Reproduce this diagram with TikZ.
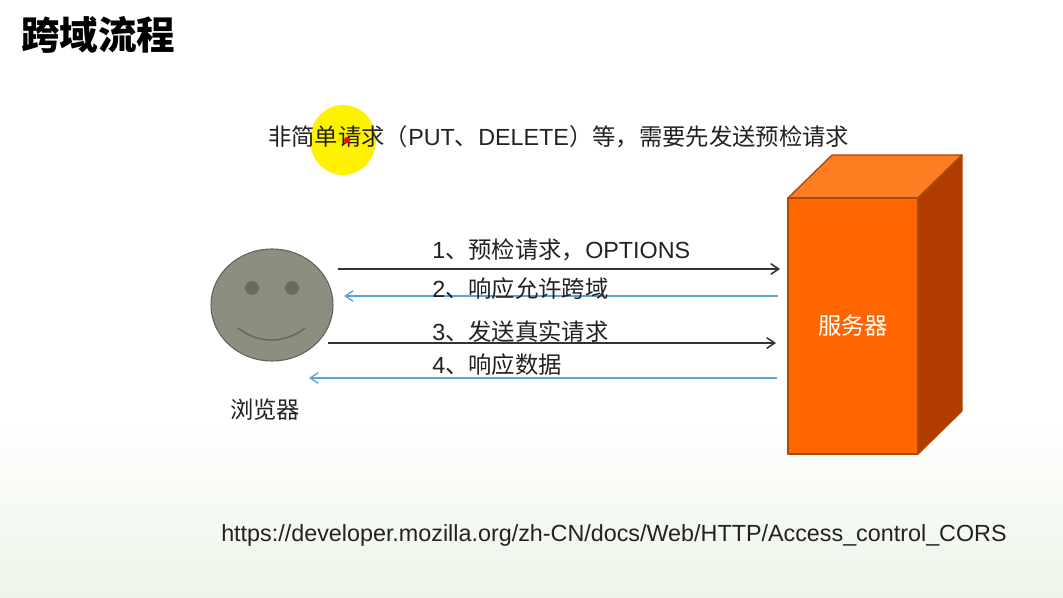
\documentclass[tikz,border=0pt]{standalone}
\usepackage{fontspec}
\setmainfont{Liberation Sans}
\newfontfamily\cjk{Noto Sans CJK SC}
\usepackage{tikz}
\usetikzlibrary {
  positioning,
  arrows.meta,
  shapes.geometric,
}
\definecolor{facegray}{HTML}{8C8E80}
\definecolor{faceedge}{HTML}{62645A}
\definecolor{eyegray}{HTML}{696B60}
\definecolor{replyblue}{HTML}{5BA3D9}
\definecolor{servfront}{HTML}{FF6600}
\definecolor{servtop}{HTML}{FF7D21}
\definecolor{servside}{HTML}{B23C00}
\definecolor{servedge}{HTML}{A84A0C}
\definecolor{inkgray}{HTML}{222222}
\definecolor{paperlow}{HTML}{EDF4E8}
\tikzset{
  txt/.style = {
    font = \fontsize{17.5pt}{20pt}\selectfont,
    text = inkgray,
    inner sep = 0pt
  },
  request/.style = {
    -{Straight Barb[length = 6pt, width = 8pt]},
    line width = 1.1pt,
    color = black!80
  },
  reply/.style = {
    -{Straight Barb[length = 6pt, width = 8pt]},
    line width = 1pt,
    color = replyblue
  },
  face/.style = {
    ellipse,
    draw = faceedge,
    fill = facegray,
    line width = .8pt,
    inner sep = 0pt
  },
  eye/.style = {
    circle,
    fill = eyegray,
    minimum size = 10.5pt,
    inner sep = 0pt
  },
  facet/.style = {
    draw = servedge,
    line width = 1pt,
    line join = round,
    fill = #1
  },
}
\newcommand{\zh}[1]{{\cjk #1}}
\begin{document}
\begin{tikzpicture}[x = .75pt, y = -.75pt]
  \useasboundingbox (0, 0) rectangle (1063, 598);
  % background
  \fill[white] (0, 0) rectangle (1063, 598);
  \fill[top color = white, bottom color = paperlow] (0, 420) rectangle (1063, 598);

  \node[font = \fontsize{28.9pt}{32pt}\selectfont\cjk\bfseries, text = black, inner sep = 0pt, anchor = west] (title) at (21, 35) {跨域流程};

  \fill[yellow] (343, 140) ellipse (33 and 35);
  \node[txt, anchor = west] (note) at (268, 137) {\zh{非简单请求（}PUT\zh{、}DELETE\zh{）等，需要先发送预检请求}};
  \fill[red] (347, 140) circle (3);

  % browser
  \node[face, minimum width = 91.5pt, minimum height = 84pt] (browser) at (272, 305) {};
  \node[eye] (lefteye) at (252, 288) {};
  \node[eye] (righteye) at (292, 288) {};
  \coordinate (smileleft) at (238, 328);
  \coordinate (smileright) at (305, 328);
  \draw[faceedge, line width = 1pt] (smileleft) .. controls (258, 344) and (285, 344) .. (smileright);
  \node[txt, anchor = center] (browsername) at (265, 410) {\zh{浏览器}};

  % server
  \coordinate (ftl) at (788, 198);
  \coordinate (ftr) at (918, 198);
  \coordinate (fbr) at (918, 454);
  \coordinate (fbl) at (788, 454);
  \coordinate (btl) at (832, 155);
  \coordinate (btr) at (962, 155);
  \coordinate (bbr) at (962, 411);
  \draw[facet = servtop] (ftl) -- (btl) -- (btr) -- (ftr) -- cycle;
  \draw[facet = servside] (ftr) -- (btr) -- (bbr) -- (fbr) -- cycle;
  \draw[facet = servfront] (ftl) -- (ftr) -- (fbr) -- (fbl) -- cycle;
  \node[txt, text = white, anchor = center] (server) at (853, 326) {\zh{服务器}};

  % connectors
  \coordinate (a1) at (338, 269);
  \coordinate (b1) at (780, 269);
  \coordinate (b2) at (778, 296);
  \coordinate (a2) at (344, 296);
  \coordinate (a3) at (328, 343);
  \coordinate (b3) at (776, 343);
  \coordinate (b4) at (777, 378);
  \coordinate (a4) at (309, 378);
  \draw[request] (a1) -- (b1);
  \draw[reply] (b2) -- (a2);
  \draw[request] (a3) -- (b3);
  \draw[reply] (b4) -- (a4);

  \node[txt, anchor = west] (step1) at (432, 250) {1\zh{、预检请求，}OPTIONS};
  \node[txt, anchor = west] (step2) at (432, 289) {2\zh{、响应允许跨域}};
  \node[txt, anchor = west] (step3) at (432, 332) {3\zh{、发送真实请求}};
  \node[txt, anchor = west] (step4) at (432, 365) {4\zh{、响应数据}};

  \node[txt, anchor = west] (link) at (221, 535) {https://developer.mozilla.org/zh-CN/docs/Web/HTTP/Access\_control\_CORS};
\end{tikzpicture}
\end{document}
